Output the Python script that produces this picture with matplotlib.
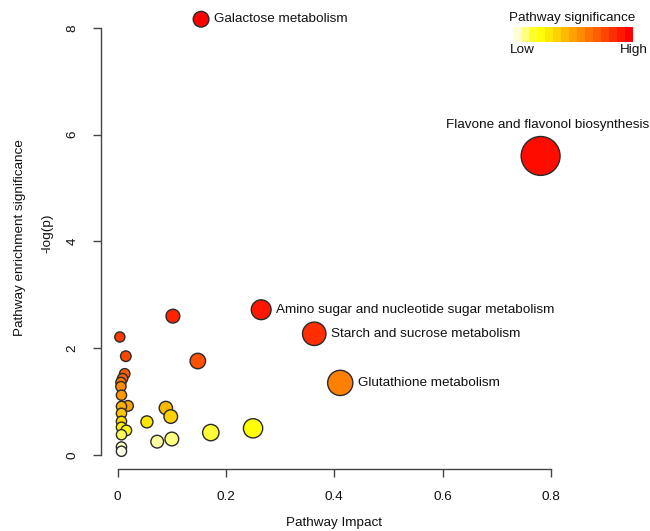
import numpy as np
import matplotlib
matplotlib.use("Agg")
import matplotlib.pyplot as plt
import colorsys
from matplotlib.patches import Rectangle

plt.rcParams['font.family'] = ['Liberation Sans', 'DejaVu Sans']

# ---- data ----
impact = [0.154, 0.781, 0.265, 0.102, 0.363, 0.004, 0.015, 0.148, 0.013, 0.009,
          0.006, 0.411, 0.006, 0.007, 0.019, 0.007, 0.089, 0.098, 0.007, 0.054,
          0.007, 0.250, 0.007, 0.016, 0.172, 0.007, 0.100, 0.073, 0.007, 0.007]
neglogp = [8.16, 5.60, 2.72, 2.60, 2.27, 2.21, 1.85, 1.76, 1.52, 1.43,
           1.36, 1.35, 1.28, 1.12, 0.92, 0.91, 0.88, 0.72, 0.78, 0.62,
           0.63, 0.50, 0.52, 0.46, 0.42, 0.38, 0.30, 0.25, 0.15, 0.07]
labels = {0: "Galactose metabolism",
          1: "Flavone and flavonol biosynthesis",
          2: "Amino sugar and nucleotide sugar metabolism",
          4: "Starch and sucrose metabolism",
          11: "Glutathione metabolism"}
xticks = [0, 0.2, 0.4, 0.6, 0.8]
xtick_labels = ["0", "0.2", "0.4", "0.6", "0.8"]
yticks = [0, 2, 4, 6, 8]
ytick_labels = ["0", "2", "4", "6", "8"]

FS = 9.7


def heat_colors(n):
    j = n // 4
    i = n - j
    cols = []
    for k in range(i):
        h = (1 / 6) * k / (i - 1) if i > 1 else 0
        cols.append(colorsys.hsv_to_rgb(h, 1, 1))
    if j > 0:
        for s in np.linspace(1 - 1 / (2 * j), 1 / (2 * j), j):
            cols.append(colorsys.hsv_to_rgb(1 / 6, s, 1))
    return cols


x = np.array(impact)
y = np.array(neglogp)
n = len(x)
hc = heat_colors(n)
order = np.argsort(-y)
colors = [None] * n
for rank, idx in enumerate(order):
    colors[idx] = hc[rank]

r_px = 5 + 18.5 * x
sizes = (2 * r_px * 0.72) ** 2

W, H = 650, 531
fig = plt.figure(figsize=(W / 100, H / 100), dpi=100)
ax = fig.add_axes([101 / W, (H - 469) / H, (560 - 101) / W, 469 / H])
ax.set_xlim(-0.0308, 0.8168)
ax.set_ylim(-0.262, 8.52)

# R draws in order of decreasing y
ax.scatter(x[order], y[order], s=sizes[order],
           c=[colors[i] for i in order], edgecolors='#2a2a2a',
           linewidths=1.0, zorder=3, clip_on=False)

for idx, txt in labels.items():
    if idx == 1:
        ax.annotate(txt, (x[idx], y[idx]), xytext=(5, (r_px[idx] + 5) * 0.72),
                    textcoords='offset points', ha='center', va='bottom',
                    fontsize=FS, annotation_clip=False, color='#111111')
    else:
        ax.annotate(txt, (x[idx], y[idx]), xytext=((r_px[idx] + 5) * 0.72, 0),
                    textcoords='offset points', ha='left', va='center',
                    fontsize=FS, annotation_clip=False, color='#111111')

for s in ['top', 'right']:
    ax.spines[s].set_visible(False)
ax.spines['left'].set_bounds(0, 8)
ax.spines['bottom'].set_bounds(0, 0.8)
for s in ['left', 'bottom']:
    ax.spines[s].set_color('#444444')
    ax.spines[s].set_linewidth(1.0)
ax.set_xticks(xticks)
ax.set_xticklabels(xtick_labels)
ax.set_yticks(yticks)
ax.set_yticklabels(ytick_labels, rotation=90, va='center')
ax.tick_params(direction='out', length=6, width=1.0, color='#444444',
               labelsize=FS, pad=10, labelcolor='#111111')

fig.text(334 / W, 1 - 523 / H, "Pathway Impact", ha='center', va='center',
         fontsize=FS, color='#111111')
fig.text(20 / W, 1 - 238 / H, "Pathway enrichment significance", rotation=90,
         ha='center', va='center', fontsize=FS, color='#111111')
fig.text(47 / W, 1 - 233 / H, "-log(p)", rotation=90,
         ha='center', va='center', fontsize=FS, color='#111111')

# legend
fig.text(572 / W, 1 - 18 / H, "Pathway significance", ha='center', va='center',
         fontsize=FS, color='#111111')
nseg = 15
legcols = heat_colors(nseg)[::-1]
x0, x1 = 512.7, 633.3
segw = (x1 - x0) / nseg
for k in range(nseg):
    fig.patches.append(Rectangle(((x0 + k * segw) / W, 1 - 42.3 / H),
                                 segw / W, 15.6 / H, transform=fig.transFigure,
                                 facecolor=legcols[k], edgecolor='none'))
fig.text(510 / W, 1 - 50 / H, "Low", ha='left', va='center', fontsize=FS,
         color='#111111')
fig.text(648 / W, 1 - 50 / H, "High", ha='right', va='center', fontsize=FS,
         color='#111111')

fig.savefig("out.png", dpi=100)
